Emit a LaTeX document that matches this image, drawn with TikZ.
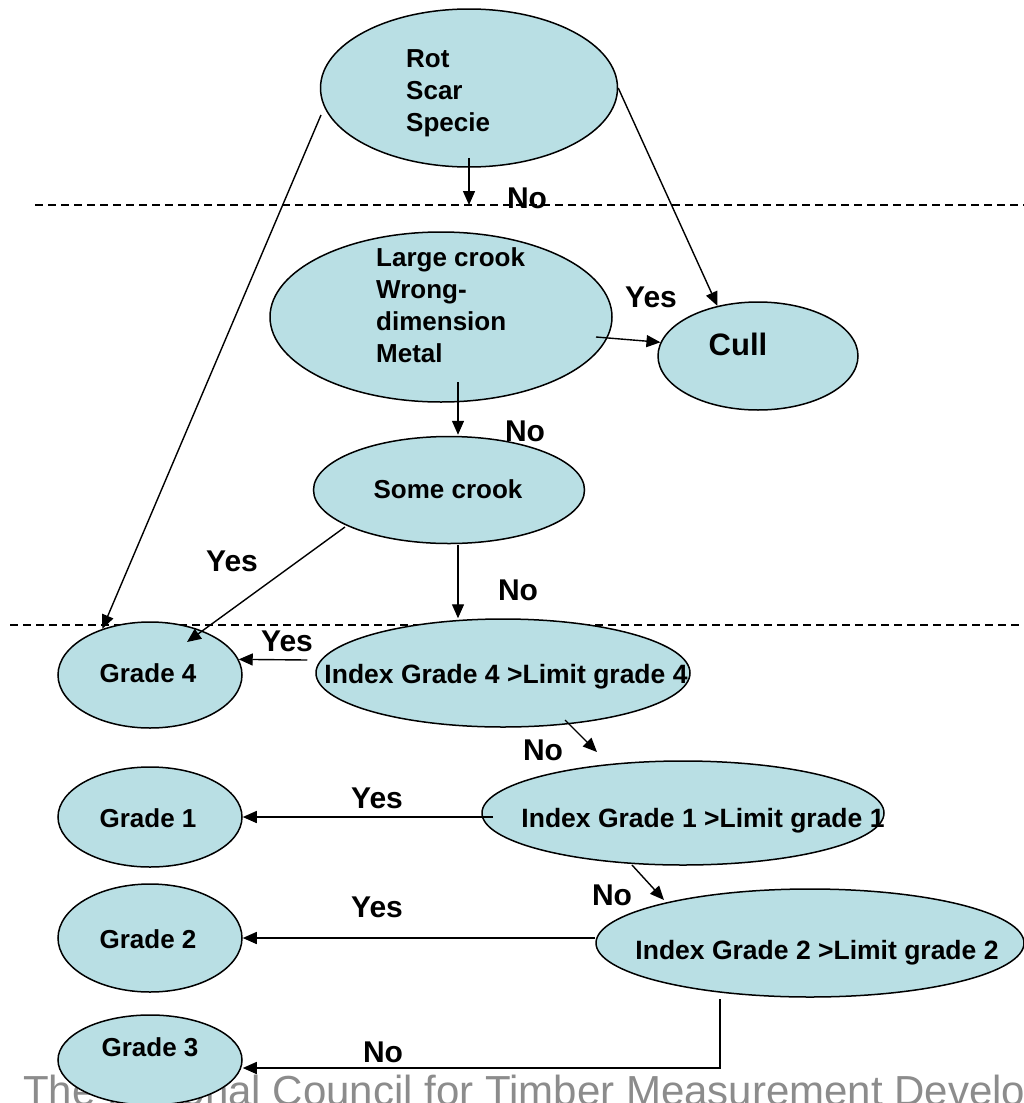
\documentclass[tikz,border=0pt]{standalone}
\usepackage{fontspec}
\setmainfont{Liberation Sans}
\usetikzlibrary{shapes.geometric,arrows.meta,calc}
\definecolor{nodefill}{RGB}{185,223,228}
\definecolor{footgray}{RGB}{140,140,140}
\begin{document}
\begin{tikzpicture}[x=1pt,y=-1pt,
  ell/.style={ellipse, draw, line width=1.5pt, fill=nodefill, inner sep=0pt},
  txt/.style={font=\bfseries\fontsize{26}{32}\selectfont, inner sep=0pt, align=left},
  itxt/.style={font=\bfseries\fontsize{26.5}{32}\selectfont, inner sep=0pt, anchor=base},
  lbl/.style={font=\bfseries\fontsize{30}{36}\selectfont, inner sep=0pt, anchor=base},
  arr/.style={line width=1.4pt, -{Triangle[length=14pt,width=12pt]}},
  divline/.style={line width=1.3pt, dash pattern=on 8pt off 5pt}]
\useasboundingbox (0,0) rectangle (1024,1103);
\clip (0,0) rectangle (1024,1103);
\fill[white] (0,0) rectangle (1024,1103);

% footer text (partly hidden by Grade 3)
\node[anchor=base west, inner sep=0pt, text=footgray, font=\fontsize{42}{50}\selectfont] (foot) at (23,1105) {The National Council for Timber Measurement Development};

% dashed separators
\coordinate (d1a) at (35,205); \coordinate (d1b) at (1024,205);
\coordinate (d2a) at (10,625); \coordinate (d2b) at (1024,625);
\draw[divline] (d1a) -- (d1b);
\draw[divline] (d2a) -- (d2b);

% ellipses
\node[ell, minimum width=297, minimum height=158] (top) at (469,88) {};
\node[ell, minimum width=342, minimum height=170] (large) at (441,317) {};
\node[ell, minimum width=200, minimum height=108] (cull) at (758,356) {};
\node[ell, minimum width=271, minimum height=107] (some) at (449,490) {};
\node[ell, minimum width=184, minimum height=106] (g4) at (150,675) {};
\node[ell, minimum width=374, minimum height=108] (i4) at (503,673) {};
\node[ell, minimum width=184, minimum height=100] (g1) at (150,817) {};
\node[ell, minimum width=402, minimum height=104] (i1) at (683,813) {};
\node[ell, minimum width=184, minimum height=108] (g2) at (150,938) {};
\node[ell, minimum width=428, minimum height=108] (i2) at (810,943) {};
\node[ell, minimum width=184, minimum height=90] (g3) at (150,1060) {};

% texts
\node[txt, anchor=west] (ttop) at (406,93) {Rot\\Scar\\Specie};
\node[txt, anchor=west] (tlarge) at (376,305) {Large crook\\Wrong-\\dimension\\Metal};
\node[font=\bfseries\fontsize{31}{36}\selectfont, inner sep=0pt, anchor=base] (tcull) at (738,355) {Cull};
\node[itxt, font=\bfseries\fontsize{26}{32}\selectfont] (tsome) at (448,498) {Some crook};
\node[itxt, font=\bfseries\fontsize{26}{32}\selectfont] (tg4) at (148,682) {Grade 4};
\node[itxt, font=\bfseries\fontsize{26}{32}\selectfont] (tg1) at (148,827) {Grade 1};
\node[itxt, font=\bfseries\fontsize{26}{32}\selectfont] (tg2) at (148,948) {Grade 2};
\node[itxt, font=\bfseries\fontsize{26}{32}\selectfont] (tg3) at (150,1056) {Grade 3};
\node[itxt] (ti4) at (506,683) {Index Grade 4 >Limit grade 4};
\node[itxt] (ti1) at (703,827) {Index Grade 1 >Limit grade 1};
\node[itxt] (ti2) at (817,959) {Index Grade 2 >Limit grade 2};

% connectors
\coordinate (e1) at (469,205);
\coordinate (s12) at ([yshift=5pt]i2.west);
\draw[arr] ([yshift=10pt]top.south) -- (e1);
\draw[arr] (top.east) -- (cull.129);
\draw[arr] ([xshift=-148pt,yshift=-27pt]top.center) -- (g4.136);
\draw[arr] ([xshift=155pt,yshift=-20pt]large.center) -- (cull.172);
\draw[arr] ([xshift=17pt,yshift=-65pt]large.center) -- ([xshift=9pt,yshift=1pt]some.north);
\draw[arr] ([xshift=9pt,yshift=-1pt]some.south) -- ([xshift=-45pt]i4.north);
\draw[arr] ([xshift=-104pt,yshift=-37pt]some.center) -- ([xshift=37pt,yshift=33pt]g4.center);
\draw[arr] ([xshift=-8pt,yshift=13pt]i4.west) -- (g4.10);
\draw[arr] ([xshift=62pt,yshift=-47pt]i4.center) -- ([xshift=-86pt,yshift=61pt]i1.center);
\draw[arr] ([xshift=-190pt,yshift=-4pt]i1.center) -- (g1.east);
\draw[arr] ([xshift=-51pt,yshift=-52pt]i1.center) -- ([xshift=-146pt,yshift=43pt]i2.center);
\draw[arr] (s12) -- (s12 -| g2.east);
\draw[arr] ([xshift=-90pt,yshift=-56pt]i2.center) |- ([yshift=-8pt]g3.east);

% labels
\node[lbl] (l1) at (527,208) {No};
\node[lbl] (l2) at (651,307) {Yes};
\node[lbl] (l3) at (525,441) {No};
\node[lbl] (l4) at (232,571) {Yes};
\node[lbl] (l5) at (518,600) {No};
\node[lbl] (l6) at (287,651) {Yes};
\node[lbl] (l7) at (543,760) {No};
\node[lbl] (l8) at (377,808) {Yes};
\node[lbl] (l9) at (612,905) {No};
\node[lbl] (l10) at (377,917) {Yes};
\node[lbl] (l11) at (383,1062) {No};
\end{tikzpicture}
\end{document}
